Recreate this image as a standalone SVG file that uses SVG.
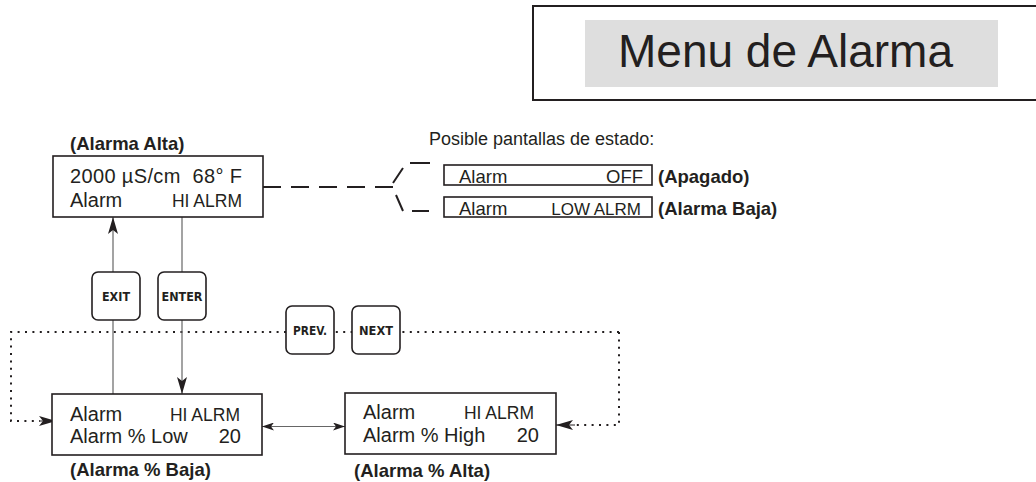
<svg xmlns="http://www.w3.org/2000/svg" width="1036" height="482" viewBox="0 0 1036 482">
<defs>
<style>
.box{fill:#fff;stroke:#231f20;stroke-width:1.6}
.btn{fill:#fff;stroke:#231f20;stroke-width:1.6}
.t{font-family:"Liberation Sans",Arial,sans-serif;fill:#231f20}
.d{font-size:20px}
.s{font-size:17.5px}
.b{font-family:"Liberation Sans",Arial,sans-serif;font-weight:bold;font-size:18.5px;fill:#231f20}
.k{font-family:"DejaVu Sans",sans-serif;font-weight:bold;font-size:12px;fill:#231f20;text-anchor:middle}
.dash{stroke:#231f20;stroke-width:2;fill:none}
.dot{stroke:#231f20;stroke-width:2;fill:none;stroke-dasharray:2 5.4}
.ln{stroke:#666;stroke-width:1.2;fill:none}
</style>
<marker id="ah" viewBox="0 0 17 10" refX="17" refY="5" markerWidth="17" markerHeight="10" markerUnits="userSpaceOnUse" orient="auto-start-reverse">
<path d="M0,0 L17,5 L0,10 L4,5 Z" fill="#231f20"/>
</marker>
<marker id="as" viewBox="0 0 12 8" refX="12" refY="4" markerWidth="12" markerHeight="8" markerUnits="userSpaceOnUse" orient="auto-start-reverse">
<path d="M0,0 L12,4 L0,8 L3,4 Z" fill="#231f20"/>
</marker>
</defs>

<g id="title">
<rect x="533" y="6" width="510" height="94" fill="#fff" stroke="#231f20" stroke-width="2"/>
<rect x="585" y="20" width="413" height="67" fill="#dedede"/>
<text class="t" x="618" y="67" font-size="46">Menu de Alarma</text>
</g>

<g id="connectors">
<path class="dash" d="M263,187 H397" stroke-dasharray="18 10"/>
<path class="dash" d="M393,183 L403,168 M410,163 H430 M396,195 L403,211 M412,211 H429"/>
<path class="dot" d="M619,332 H11 V421 H40"/>
<path class="dot" d="M619,332 V425 H575"/>
<path d="M40,421 H56" stroke="#231f20" stroke-width="1" marker-end="url(#ah)"/>
<path d="M575,425 H556" stroke="#231f20" stroke-width="1" marker-end="url(#ah)"/>
<path class="ln" d="M113,394 V217" marker-end="url(#ah)"/>
<path class="ln" d="M182,217 V394" marker-end="url(#ah)"/>
<path class="ln" d="M262,426.5 H345" marker-start="url(#as)" marker-end="url(#as)"/>
</g>

<g id="node-alarma-alta">
<text class="b" x="70" y="150">(Alarma Alta)</text>
<rect class="box" x="53" y="156" width="210" height="61"/>
<text class="t d" x="70" y="183" textLength="172" lengthAdjust="spacing">2000 µS/cm&#160; 68° F</text>
<text class="t d" x="70" y="207">Alarm</text>
<text class="t s" x="242" y="207" text-anchor="end">HI ALRM</text>
</g>

<g id="status-screens">
<text class="t" x="429" y="145" font-size="18">Posible pantallas de estado:</text>
<rect class="box" x="444" y="165" width="208" height="20"/>
<text class="t" x="459" y="183" font-size="18.5">Alarm</text>
<text class="t" x="643" y="183" font-size="18.5" text-anchor="end">OFF</text>
<text class="b" x="658" y="183">(Apagado)</text>
<rect class="box" x="444" y="197" width="208" height="20"/>
<text class="t" x="459" y="215" font-size="18.5">Alarm</text>
<text class="t" x="641" y="215" font-size="17" text-anchor="end">LOW ALRM</text>
<text class="b" x="658" y="215">(Alarma Baja)</text>
</g>

<g id="btn-exit">
<rect class="btn" x="92" y="272" width="48" height="48" rx="6"/>
<text class="k" x="116" y="300.5" textLength="28" lengthAdjust="spacingAndGlyphs">EXIT</text>
</g>
<g id="btn-enter">
<rect class="btn" x="158" y="272" width="48" height="48" rx="6"/>
<text class="k" x="182" y="300.5" textLength="41" lengthAdjust="spacingAndGlyphs">ENTER</text>
</g>
<g id="btn-prev">
<rect class="btn" x="286" y="306" width="48" height="48" rx="6"/>
<text class="k" x="310" y="334.5" textLength="34" lengthAdjust="spacingAndGlyphs">PREV.</text>
</g>
<g id="btn-next">
<rect class="btn" x="352" y="306" width="48" height="48" rx="6"/>
<text class="k" x="376" y="334.5" textLength="34" lengthAdjust="spacingAndGlyphs">NEXT</text>
</g>

<g id="node-alarma-baja">
<rect class="box" x="52" y="394" width="210" height="61"/>
<text class="t d" x="70" y="421">Alarm</text>
<text class="t s" x="240" y="421" text-anchor="end">HI ALRM</text>
<text class="t d" x="70" y="443">Alarm % Low</text>
<text class="t d" x="241" y="443" text-anchor="end">20</text>
<text class="b" x="70" y="476">(Alarma % Baja)</text>
</g>

<g id="node-alarma-pct-alta">
<rect class="box" x="345" y="393" width="211" height="61"/>
<text class="t d" x="363" y="419">Alarm</text>
<text class="t s" x="534" y="419" text-anchor="end">HI ALRM</text>
<text class="t d" x="363" y="441.5">Alarm % High</text>
<text class="t d" x="539" y="441.5" text-anchor="end">20</text>
<text class="b" x="354" y="477">(Alarma % Alta)</text>
</g>
</svg>
